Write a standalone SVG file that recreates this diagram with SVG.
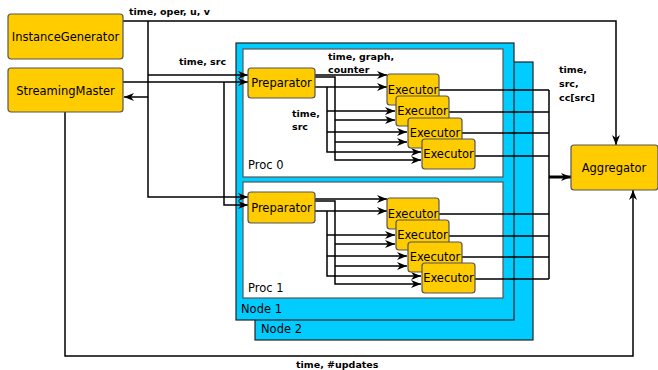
<svg xmlns="http://www.w3.org/2000/svg" width="658" height="370" viewBox="0 0 658 370">
<style>
.box{fill:#FFCC00;stroke:#555;stroke-width:1.2}
.node{fill:#00CCFF;stroke:#222;stroke-width:1.2}
.proc{fill:#fff;stroke:#555;stroke-width:1.2}
.t{font-family:"DejaVu Sans",Verdana,sans-serif;font-size:11.5px;fill:#000}
.c{text-anchor:middle}
.l{font-family:"DejaVu Sans",Verdana,sans-serif;font-size:9.5px;font-weight:bold;fill:#000}
.w{fill:none;stroke:#000;stroke-width:1.5}
.a{marker-end:url(#ah)}
</style>
<defs>
<marker id="ah" viewBox="0 0 10 8" refX="10" refY="4" markerWidth="10" markerHeight="8" markerUnits="userSpaceOnUse" orient="auto"><path d="M0,0 L10,4 L0,8 L3,4 z" fill="#000"/></marker>
</defs>
<rect width="658" height="370" fill="#fff"/>
<g id="node2"><rect class="node" x="255" y="62" width="278" height="278"/><text class="t" x="261" y="333">Node 2</text></g>
<g id="node1"><rect class="node" x="236" y="43" width="278" height="277"/><text class="t" x="241" y="313">Node 1</text></g>
<g id="proc0"><rect class="proc" x="243" y="49" width="260" height="128"/><text class="t" x="248" y="169">Proc 0</text></g>
<g id="proc1"><rect class="proc" x="243" y="182" width="260" height="116"/><text class="t" x="248" y="292">Proc 1</text></g>
<g id="connectors">
<path class="w a" d="M123,21 H616 V145"/>
<path class="w a" d="M148,21 V197 H248"/>
<path class="w a" d="M148,75 H248"/>
<path class="w a" d="M148,97 H124"/>
<path class="w a" d="M123,82 H248"/>
<path class="w a" d="M224,82 V205 H248"/>
<path class="w a" d="M65,112 V356 H633 V190"/>
<path class="w a" d="M315,75 H387"/>
<path class="w a" d="M315,77 H335 V160 H421"/>
<path class="w a" d="M315,87 H387"/>
<path class="w a" d="M327,87 V152 H421"/>
<path class="w a" d="M327,111 H395"/>
<path class="w a" d="M335,120 H395"/>
<path class="w a" d="M327,132 H407"/>
<path class="w a" d="M335,142 H407"/>
<path class="w a" d="M315,199 H387"/>
<path class="w a" d="M315,201 H335 V284 H421"/>
<path class="w a" d="M315,211 H387"/>
<path class="w a" d="M327,211 V276 H421"/>
<path class="w a" d="M327,235 H395"/>
<path class="w a" d="M335,244 H395"/>
<path class="w a" d="M327,256 H407"/>
<path class="w a" d="M335,266 H407"/>
<path class="w" d="M439,90 H549 M449,112 H549 M462,133 H549 M475,156 H549 M439,214 H549 M449,236 H549 M462,257 H549 M475,279 H549 M549,90 V279"/>
<path class="a" d="M549,177 H571" fill="none" stroke="#000" stroke-width="3"/>
</g>
<g id="labels">
<text class="l" x="129" y="15">time, oper, u, v</text>
<text class="l" x="179" y="65">time, src</text>
<text class="l" x="328" y="60">time, graph,</text>
<text class="l" x="328" y="73">counter</text>
<text class="l" x="292" y="117">time,</text>
<text class="l" x="292" y="130">src</text>
<text class="l" x="559" y="73">time,</text>
<text class="l" x="559" y="87">src,</text>
<text class="l" x="559" y="101">cc[src]</text>
<text class="l" x="296" y="368">time, #updates</text>
</g>
<g id="InstanceGenerator"><rect class="box" x="8" y="14" width="115" height="45" rx="3"/><text class="t c" x="65.5" y="41">InstanceGenerator</text></g>
<g id="StreamingMaster"><rect class="box" x="8" y="68" width="115" height="44" rx="3"/><text class="t c" x="65.5" y="95">StreamingMaster</text></g>
<g id="Aggregator"><rect class="box" x="571" y="145" width="87" height="45" rx="3"/><text class="t c" x="614" y="172">Aggregator</text></g>
<g id="prep0"><rect class="box" x="248" y="68" width="67" height="30" rx="3"/><text class="t c" x="281.5" y="87">Preparator</text></g>
<g id="exec0a"><rect class="box" x="387" y="74" width="52" height="31" rx="3"/><text class="t c" x="413" y="94">Executor</text></g>
<g id="exec0b"><rect class="box" x="396" y="96" width="53" height="30" rx="3"/><text class="t c" x="422.5" y="115">Executor</text></g>
<g id="exec0c"><rect class="box" x="408" y="118" width="54" height="30" rx="3"/><text class="t c" x="435" y="137">Executor</text></g>
<g id="exec0d"><rect class="box" x="422" y="139" width="53" height="30" rx="3"/><text class="t c" x="448.5" y="158">Executor</text></g>
<g id="prep1"><rect class="box" x="248" y="192" width="67" height="31" rx="3"/><text class="t c" x="281.5" y="212">Preparator</text></g>
<g id="exec1a"><rect class="box" x="387" y="198" width="52" height="31" rx="3"/><text class="t c" x="413" y="218">Executor</text></g>
<g id="exec1b"><rect class="box" x="396" y="220" width="53" height="30" rx="3"/><text class="t c" x="422.5" y="239">Executor</text></g>
<g id="exec1c"><rect class="box" x="408" y="242" width="54" height="30" rx="3"/><text class="t c" x="435" y="261">Executor</text></g>
<g id="exec1d"><rect class="box" x="422" y="263" width="53" height="30" rx="3"/><text class="t c" x="448.5" y="282">Executor</text></g>
</svg>
